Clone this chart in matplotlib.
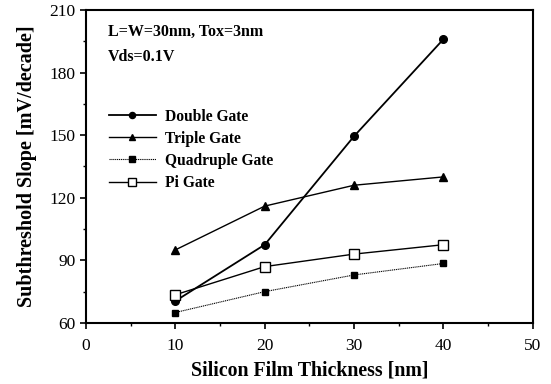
import matplotlib
matplotlib.use('Agg')
from matplotlib import pyplot as plt
from matplotlib.ticker import MultipleLocator

plt.rcParams['font.family'] = ['Liberation Serif', 'DejaVu Serif']

thick = [10, 20, 30, 40]
double_gate = [70.5, 97.5, 149.5, 196]
triple_gate = [95, 116, 126, 130]
quad_gate = [65, 75, 83, 88.5]
pi_gate = [73.5, 87, 93, 97.5]

fig = plt.figure(figsize=(5.51, 3.84), dpi=100)
ax = fig.add_axes([0.156, 0.159, 0.811, 0.815])

ax.plot(thick, double_gate, color='black', lw=1.3, marker='o', ms=5.5, label='Double Gate')
ax.plot(thick, triple_gate, color='black', lw=1.0, marker='^', ms=5.5, label='Triple Gate')
ax.plot(thick, quad_gate, color='black', lw=0.8, ls=(0, (1, 0.7)), marker='s', ms=5, label='Quadruple Gate')
ax.plot(thick, pi_gate, color='black', lw=1.0, marker='s', ms=6.5, mfc='white', label='Pi Gate')

ax.set_xlim(0, 50)
ax.set_ylim(60, 210)
ax.xaxis.set_major_locator(MultipleLocator(10))
ax.xaxis.set_minor_locator(MultipleLocator(5))
ax.yaxis.set_major_locator(MultipleLocator(30))
ax.yaxis.set_minor_locator(MultipleLocator(15))
ax.tick_params(which='both', direction='out', top=False, right=False, labelsize=12.5)
ax.tick_params(which='major', length=4, width=1.2)
ax.tick_params(which='minor', length=2.5, width=1)
ax.tick_params(axis='x', which='major', pad=6.5)
for s in ax.spines.values():
    s.set_linewidth(1.5)

ax.set_xlabel('Silicon Film Thickness [nm]', fontsize=14.3, fontweight='bold', labelpad=5)
ax.set_ylabel('Subthreshold Slope [mV/decade]', fontsize=14.5, fontweight='bold', labelpad=9)

ax.text(0.05, 0.93, 'L=W=30nm, Tox=3nm', transform=ax.transAxes, fontsize=11.5, fontweight='bold', va='center')
ax.text(0.05, 0.85, 'Vds=0.1V', transform=ax.transAxes, fontsize=11.5, fontweight='bold', va='center')

leg = ax.legend(loc='upper left', bbox_to_anchor=(0.02, 0.729), frameon=False, markerscale=0.8,
                prop={'weight': 'bold', 'size': 11.2}, handlelength=3.0, labelspacing=0.39, handletextpad=0.6)

fig.savefig('out.png', dpi=100)
